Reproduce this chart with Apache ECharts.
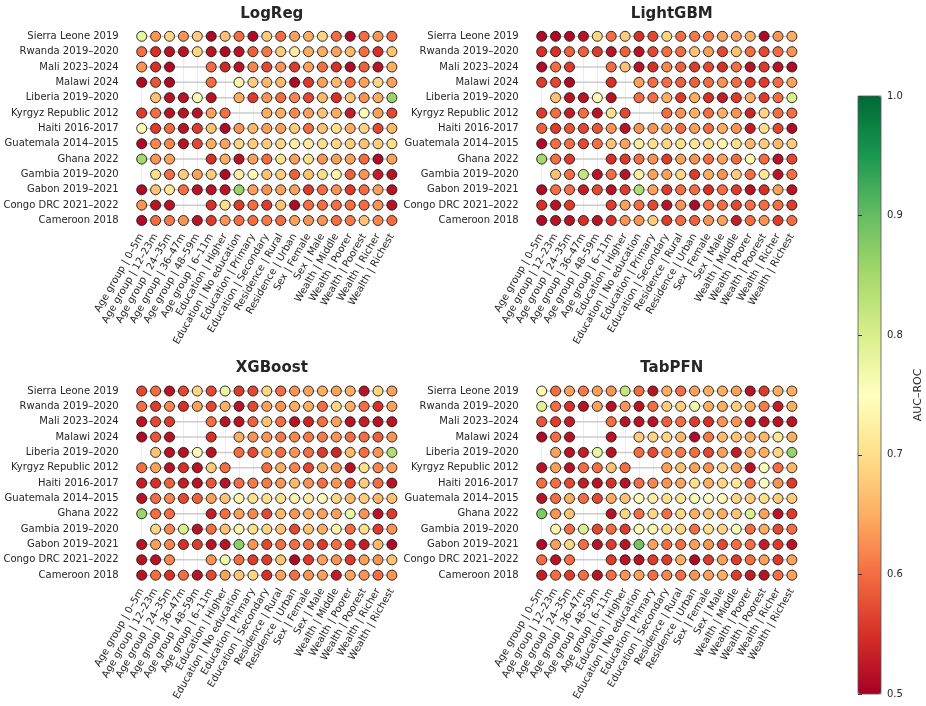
<!DOCTYPE html>
<html>
<head>
<meta charset="utf-8">
<script src="https://cdn.jsdelivr.net/npm/echarts@6/dist/echarts.min.js"></script>
<style>
  html, body { margin: 0; padding: 0; background: #fff; }
  #chart { width: 926px; height: 706px; }
</style>
</head>
<body>
<div id="chart"></div>
<script>
// rows top to bottom, columns left to right
const countries = ['Sierra Leone 2019', 'Rwanda 2019–2020', 'Mali 2023–2024', 'Malawi 2024', 'Liberia 2019–2020',
  'Kyrgyz Republic 2012', 'Haiti 2016-2017', 'Guatemala 2014–2015', 'Ghana 2022', 'Gambia 2019–2020',
  'Gabon 2019–2021', 'Congo DRC 2021–2022', 'Cameroon 2018']
const subgroups = ['Age group | 0–5m', 'Age group | 12–23m', 'Age group | 24–35m', 'Age group | 36–47m',
  'Age group | 48–59m', 'Age group | 6–11m', 'Education | Higher', 'Education | No education',
  'Education | Primary', 'Education | Secondary', 'Residence | Rural', 'Residence | Urban',
  'Sex | Female', 'Sex | Male', 'Wealth | Middle', 'Wealth | Poorer', 'Wealth | Poorest',
  'Wealth | Richer', 'Wealth | Richest']
const modelNames = ['LogReg', 'LightGBM', 'XGBoost', 'TabPFN']
const cbTicks = [0.5, 0.6, 0.7, 0.8, 0.9, 1.0]

const logreg = [
  [0.78,0.63,0.69,0.63,0.68,0.51,0.67,0.60,0.51,0.68,0.60,0.64,0.65,0.69,0.60,0.51,0.60,0.63,0.60],
  [0.60,0.55,0.52,0.52,0.69,0.52,0.51,0.52,0.59,0.61,0.68,0.72,0.65,0.65,0.64,0.66,0.60,0.55,0.67],
  [0.63,0.55,0.51,null,null,0.60,0.54,0.52,0.62,0.57,0.63,0.56,0.64,0.60,0.55,0.51,0.59,0.52,0.65],
  [0.51,0.58,0.51,null,null,0.60,null,0.73,0.68,0.66,0.66,0.51,0.56,0.64,0.66,0.60,0.64,0.69,0.64],
  [null,0.67,0.52,0.52,0.76,0.52,null,0.65,0.56,0.63,0.60,0.62,0.57,0.66,0.55,0.67,0.63,0.65,0.86],
  [0.56,0.60,0.52,0.52,0.52,0.64,0.60,null,null,0.65,0.65,0.62,0.64,0.67,0.65,0.53,0.76,0.64,0.57],
  [0.74,0.56,0.60,0.52,0.56,0.67,0.51,0.63,0.66,0.64,0.64,0.68,0.60,0.67,0.70,0.65,0.69,0.57,0.66],
  [0.51,0.62,0.62,0.52,0.57,0.65,0.64,0.69,0.68,0.68,0.69,0.72,0.72,0.70,0.69,0.68,0.67,0.68,0.70],
  [0.85,0.63,0.64,null,null,0.55,0.65,0.52,0.64,0.60,0.70,0.64,0.70,0.63,0.64,0.64,0.60,0.51,0.64],
  [null,0.70,0.60,0.68,0.64,0.68,0.51,0.72,0.74,0.67,0.68,0.59,0.67,0.70,0.73,0.59,0.63,0.53,0.52],
  [0.51,0.67,0.71,0.60,0.52,0.52,0.52,0.86,0.64,0.63,0.64,0.64,0.56,0.60,0.63,0.56,0.60,0.64,0.52],
  [0.63,0.52,0.52,null,null,0.55,0.70,0.56,0.60,0.56,0.67,0.51,0.60,0.60,0.60,0.60,0.60,0.63,0.52],
  [0.51,0.60,0.61,0.63,0.52,0.56,0.63,0.60,0.60,0.61,0.60,0.64,0.63,0.63,0.60,0.61,0.67,0.62,0.60]
]
const lightgbm = [
  [0.51,0.51,0.51,0.52,0.69,0.60,0.68,0.55,0.57,0.69,0.60,0.61,0.61,0.64,0.64,0.65,0.51,0.63,0.65],
  [0.55,0.55,0.59,0.59,0.56,0.52,0.59,0.52,0.57,0.60,0.60,0.67,0.64,0.57,0.67,0.60,0.57,0.60,0.63],
  [0.51,0.60,0.56,null,null,0.60,0.67,0.52,0.55,0.62,0.59,0.56,0.57,0.55,0.60,0.52,0.56,0.52,0.51],
  [0.56,0.57,0.51,null,null,0.55,null,0.64,0.60,0.60,0.59,0.59,0.60,0.63,0.60,0.56,0.56,0.60,0.64],
  [null,0.67,0.52,0.52,0.74,0.52,null,0.60,0.60,0.65,0.56,0.65,0.55,0.53,0.56,0.65,0.56,0.60,0.80],
  [0.56,0.60,0.53,0.60,0.52,0.70,0.57,null,null,0.60,0.63,0.65,0.60,0.65,0.63,0.54,0.69,0.60,0.60],
  [0.59,0.56,0.58,0.57,0.58,0.63,0.52,0.63,0.63,0.64,0.60,0.64,0.60,0.65,0.63,0.53,0.70,0.57,0.51],
  [0.51,0.60,0.60,0.57,0.60,0.67,0.64,0.72,0.70,0.69,0.70,0.71,0.70,0.73,0.70,0.66,0.68,0.66,0.68],
  [0.85,0.60,0.56,null,null,0.55,0.56,0.60,0.63,0.56,0.64,0.63,0.60,0.64,0.60,0.73,0.60,0.52,0.57],
  [null,0.67,0.60,0.82,0.52,0.60,0.52,0.72,0.64,0.64,0.69,0.56,0.65,0.63,0.68,0.60,0.71,0.52,0.60],
  [0.51,0.60,0.60,0.53,0.57,0.52,0.56,0.84,0.64,0.56,0.60,0.60,0.55,0.60,0.56,0.52,0.55,0.64,0.52],
  [0.55,0.52,0.56,null,null,0.56,0.64,0.60,0.57,0.52,0.63,0.51,0.60,0.60,0.57,0.60,0.60,0.60,0.56],
  [0.51,0.52,0.52,0.55,0.52,0.55,0.63,0.63,0.68,0.56,0.60,0.59,0.63,0.64,0.53,0.60,0.63,0.56,0.60]
]
const xgboost = [
  [0.57,0.60,0.52,0.57,0.69,0.57,0.78,0.56,0.57,0.69,0.60,0.63,0.64,0.65,0.64,0.65,0.52,0.69,0.64],
  [0.60,0.56,0.62,0.55,0.64,0.57,0.65,0.52,0.57,0.64,0.63,0.65,0.65,0.60,0.69,0.65,0.60,0.55,0.64],
  [0.52,0.57,0.56,null,null,0.60,0.52,0.52,0.59,0.67,0.60,0.52,0.54,0.60,0.64,0.52,0.53,0.52,0.52],
  [0.51,0.58,0.52,null,null,0.55,null,0.65,0.63,0.63,0.61,0.62,0.61,0.61,0.63,0.60,0.60,0.59,0.63],
  [null,0.67,0.52,0.52,0.74,0.52,null,0.60,0.57,0.65,0.60,0.63,0.60,0.56,0.54,0.66,0.60,0.63,0.84],
  [0.60,0.64,0.52,0.55,0.52,0.68,0.60,null,null,0.60,0.65,0.62,0.57,0.65,0.63,0.52,0.70,0.62,0.64],
  [0.53,0.55,0.59,0.53,0.52,0.58,0.52,0.60,0.61,0.61,0.63,0.66,0.63,0.60,0.63,0.57,0.68,0.60,0.52],
  [0.52,0.60,0.62,0.57,0.59,0.64,0.67,0.73,0.70,0.70,0.70,0.73,0.72,0.74,0.69,0.66,0.68,0.66,0.67],
  [0.86,0.60,0.60,null,null,0.53,0.60,0.64,0.62,0.57,0.66,0.63,0.65,0.64,0.64,0.78,0.63,0.52,0.56],
  [null,0.69,0.62,0.80,0.52,0.60,0.67,0.73,0.70,0.69,0.67,0.57,0.67,0.65,0.73,0.60,0.70,0.56,0.63],
  [0.52,0.64,0.62,0.55,0.56,0.52,0.52,0.87,0.63,0.57,0.60,0.60,0.60,0.56,0.60,0.55,0.53,0.66,0.51],
  [0.52,0.52,0.62,null,null,0.63,0.77,0.60,0.56,0.56,0.67,0.51,0.56,0.64,0.63,0.56,0.64,0.63,0.67],
  [0.52,0.60,0.55,0.60,0.52,0.57,0.64,0.67,0.69,0.55,0.64,0.60,0.63,0.64,0.53,0.64,0.63,0.60,0.63]
]
const tabpfn = [
  [0.74,0.60,0.64,0.61,0.64,0.63,0.82,0.60,0.52,0.65,0.60,0.64,0.65,0.65,0.64,0.52,0.56,0.65,0.65],
  [0.79,0.60,0.55,0.52,0.64,0.52,0.63,0.52,0.60,0.68,0.68,0.77,0.65,0.65,0.68,0.65,0.61,0.53,0.65],
  [0.58,0.56,0.53,null,null,0.60,0.52,0.52,0.52,0.59,0.60,0.56,0.55,0.63,0.63,0.52,0.52,0.52,0.52],
  [0.51,0.60,0.52,null,null,0.52,null,0.68,0.69,0.69,0.66,0.51,0.61,0.66,0.67,0.65,0.66,0.71,0.65],
  [null,0.64,0.52,0.53,0.78,0.52,null,0.60,0.57,0.63,0.61,0.60,0.57,0.64,0.53,0.64,0.65,0.69,0.86],
  [0.52,0.64,0.52,0.60,0.60,0.67,0.60,null,null,0.64,0.67,0.64,0.63,0.69,0.64,0.52,0.76,0.60,0.66],
  [0.60,0.60,0.57,0.53,0.52,0.55,0.52,0.60,0.62,0.63,0.64,0.70,0.65,0.69,0.71,0.60,0.75,0.63,0.56],
  [0.52,0.60,0.65,0.60,0.57,0.65,0.67,0.74,0.72,0.70,0.71,0.76,0.75,0.74,0.69,0.68,0.70,0.68,0.68],
  [0.88,0.63,0.67,null,null,0.52,0.69,0.60,0.69,0.60,0.69,0.65,0.67,0.65,0.67,0.80,0.64,0.52,0.56],
  [null,0.73,0.60,0.80,0.57,0.60,0.56,0.74,0.73,0.70,0.69,0.60,0.70,0.69,0.76,0.60,0.65,0.57,0.60],
  [0.51,0.64,0.69,0.60,0.52,0.56,0.52,0.89,0.64,0.60,0.60,0.64,0.63,0.57,0.60,0.60,0.53,0.56,0.52],
  [0.60,0.52,0.60,null,null,0.56,0.52,0.52,0.56,0.56,0.65,0.51,0.56,0.64,0.56,0.60,0.64,0.56,0.64],
  [0.53,0.60,0.56,0.60,0.52,0.60,0.63,0.64,0.60,0.62,0.60,0.63,0.64,0.65,0.56,0.53,0.52,0.60,0.64]
]

const rdylgn = ['#a50026', '#d73027', '#f46d43', '#fdae61', '#fee08b', '#ffffbf',
  '#d9ef8b', '#a6d96a', '#66bd63', '#1a9850', '#006837']

let chart = echarts.init(document.getElementById('chart'))

const models = [logreg, lightgbm, xgboost, tabpfn]
// centre of first dot in each panel
const panelPos = [[141.7, 36.3], [541.7, 36.3], [141.7, 391], [541.7, 391]]
const cellW = 13.9
const cellH = 15.35
const txt = '#262626'

let grid = [], xAxis = [], yAxis = [], series = [], title = [], scatterIdx = []

models.forEach((m, p) => {
    const [l, t] = panelPos[p]
    const w = cellW * (subgroups.length - 1)
    grid.push({ left: l, top: t, width: w, height: cellH * (countries.length - 1) })
    title.push({
        text: modelNames[p], left: l + w / 2, top: t - 35, textAlign: 'center',
        textStyle: { fontSize: 15, fontWeight: 'bold', color: txt, fontFamily: 'DejaVu Sans' }
    })
    xAxis.push({
        type: 'category', gridIndex: p, data: subgroups, boundaryGap: false,
        axisLine: { show: false }, axisTick: { show: false },
        axisLabel: { rotate: 60, interval: 0, fontSize: 10, color: txt, margin: 14 },
        splitLine: { show: true, interval: 0, lineStyle: { color: '#ececec', width: 1 } }
    })
    yAxis.push({
        type: 'category', gridIndex: p, data: countries, inverse: true, boundaryGap: false,
        axisLine: { show: false }, axisTick: { show: false }, splitLine: { show: false },
        axisLabel: { interval: 0, fontSize: 10, color: txt, margin: 23 }
    })
    // grey line through the available cells of each row
    m.forEach((row, r) => {
        let pts = []
        row.forEach((v, c) => { if (v !== null) pts.push([c, r]) })
        series.push({
            type: 'line', xAxisIndex: p, yAxisIndex: p, data: pts, symbol: 'none', silent: true,
            lineStyle: { color: '#cccccc', width: 1.5 }, z: 1
        })
    })
    let dots = []
    m.forEach((row, r) => row.forEach((v, c) => { if (v !== null) dots.push([c, r, v]) }))
    scatterIdx.push(series.length)
    series.push({
        type: 'scatter', xAxisIndex: p, yAxisIndex: p, data: dots, symbolSize: 10,
        itemStyle: { borderColor: '#1a1a1a', borderWidth: 0.9, opacity: 1 }, z: 3
    })
})

// colorbar axis + outline
grid.push({ left: 858, top: 96, width: 23, height: 598, show: true, borderColor: '#555', borderWidth: 0.8, backgroundColor: 'transparent', z: 10 })
xAxis.push({ type: 'value', gridIndex: 4, show: false, min: 0, max: 1 })
yAxis.push({
    type: 'value', gridIndex: 4, position: 'right', min: cbTicks[0], max: cbTicks[cbTicks.length - 1], interval: 0.1,
    axisLine: { show: false }, splitLine: { show: false },
    axisTick: { show: true, length: 4, lineStyle: { color: '#333' } },
    axisLabel: { fontSize: 10, color: txt, margin: 6, formatter: v => v.toFixed(1) },
    name: 'AUC–ROC', nameLocation: 'middle', nameRotate: 90, nameGap: 32,
    nameTextStyle: { fontSize: 11, color: txt }
})

let option = {
    backgroundColor: '#fff',
    animation: false,
    textStyle: { fontFamily: 'DejaVu Sans' },
    title: title,
    grid: grid,
    xAxis: xAxis,
    yAxis: yAxis,
    visualMap: {
        type: 'continuous', min: 0.5, max: 1, dimension: 2, seriesIndex: scatterIdx,
        inRange: { color: rdylgn }, left: 858, top: 96, itemWidth: 23, itemHeight: 598,
        calculable: false, padding: 0, hoverLink: false, z: 0
    },
    series: series
}

chart.setOption(option)
</script>
</body>
</html>
